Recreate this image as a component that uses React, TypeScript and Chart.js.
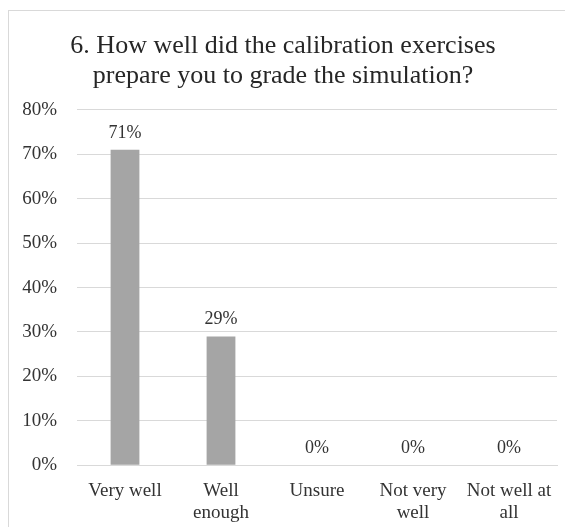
import React, { useEffect, useRef } from "react";
import { Chart, registerables } from "chart.js";

Chart.register(...registerables);

const categories: (string | string[])[] = [
  "Very well",
  ["Well", "enough"],
  "Unsure",
  ["Not very", "well"],
  ["Not well at", "all"],
];
const values = [71, 29, 0, 0, 0];
const titleLines = [
  "6. How well did the calibration exercises",
  "prepare you to grade the simulation?",
];

const FONT = "'Liberation Serif', 'Times New Roman', serif";

const dataLabels = {
  id: "dataLabels",
  afterDatasetsDraw(chart: any) {
    const ctx = chart.ctx;
    const meta = chart.getDatasetMeta(0);
    ctx.save();
    ctx.font = `18px ${FONT}`;
    ctx.fillStyle = "#333333";
    ctx.textAlign = "center";
    ctx.textBaseline = "bottom";
    meta.data.forEach((el: any, i: number) => {
      const v = chart.data.datasets[0].data[i];
      ctx.fillText(`${v}%`, el.x, el.y - 8);
    });
    ctx.restore();
  },
};

export default function App() {
  const ref = useRef<HTMLCanvasElement>(null);
  useEffect(() => {
    if (!ref.current) return;
    const chart = new Chart(ref.current, {
      type: "bar",
      data: {
        labels: categories,
        datasets: [
          {
            data: values,
            backgroundColor: "#a5a5a5",
            categoryPercentage: 1,
            barPercentage: 0.3,
          },
        ],
      },
      options: {
        animation: false,
        responsive: false,
        maintainAspectRatio: false,
        layout: { padding: { left: 0, right: 13, top: 12, bottom: 0 } },
        plugins: {
          legend: { display: false },
          tooltip: { enabled: false },
          title: {
            display: true,
            text: titleLines,
            color: "#262626",
            font: { family: FONT, size: 26, weight: "normal" as any, lineHeight: 1.15 },
            padding: { top: 0, bottom: 19 },
          },
        },
        scales: {
          y: {
            min: 0,
            max: 80,
            afterFit: (s: any) => {
              s.width = 68;
            },
            ticks: {
              stepSize: 10,
              callback: (v: any) => `${v}%`,
              color: "#333333",
              font: { family: FONT, size: 19 },
              padding: 20,
            },
            grid: { color: "#d9d9d9", drawTicks: false },
            border: { display: false },
          },
          x: {
            ticks: {
              color: "#333333",
              font: { family: FONT, size: 19, lineHeight: 1.15 },
              padding: 7,
              maxRotation: 0,
              autoSkip: false,
            },
            grid: { display: false },
            border: { color: "#d9d9d9" },
          },
        },
      },
      plugins: [dataLabels],
    });
    return () => chart.destroy();
  }, []);
  return (
    <div
      style={{
        marginTop: 2,
        width: 563,
        height: 530,
        border: "1px solid #d9d9d9",
        boxSizing: "border-box",
        paddingTop: 8,
      }}
    >
      <canvas ref={ref} width={561} height={512} />
    </div>
  );
}
